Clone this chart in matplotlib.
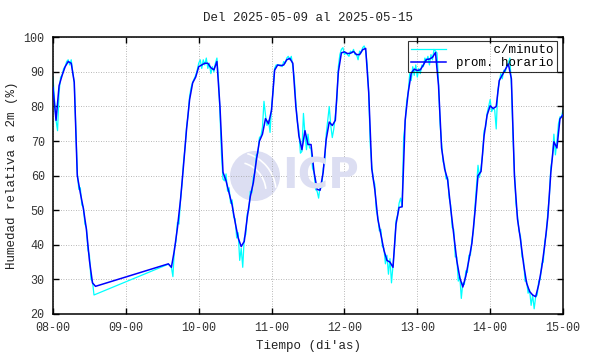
import numpy as np
import matplotlib
matplotlib.use("Agg")
import matplotlib.pyplot as plt
from matplotlib.patches import Ellipse, Arc

# ---------------- data ----------------
title = "Del 2025-05-09 al 2025-05-15"
x_label = "Tiempo (di'as)"
y_label = "Humedad relativa a 2m (%)"
x_tick_labels = ["08-00", "09-00", "10-00", "11-00", "12-00", "13-00", "14-00", "15-00"]
y_ticks = [20, 30, 40, 50, 60, 70, 80, 90, 100]
legend_labels = ["c/minuto", "prom. horario"]

# hourly average (hours after 08-00), two segments separated by a data gap
hourly_start_a = 0
hourly_a = [85.5, 76.0, 86.0, 89.0, 91.5, 93.0, 92.5, 87.0, 60.0, 55.0,
            50.5, 44.5, 35.5, 29.0, 28.0]
hourly_start_b = 38
hourly_b = [34.5, 33.5, 38.5, 45.0, 53.0, 63.0, 73.5, 82.0, 86.8, 88.5,   # 38-47
            91.5, 92.0, 92.5, 92.5, 91.2, 90.6, 93.0, 80.0, 61.0, 58.5,   # 48-57
            55.0, 51.5, 46.5, 42.0, 39.5, 41.0, 48.0, 54.0, 58.0, 64.5,   # 58-67
            70.0, 72.0, 76.5, 75.0, 79.0, 90.5, 92.0, 91.8, 92.0, 93.5,   # 68-77
            93.9, 92.5, 80.0, 71.5, 67.5, 73.0, 69.0, 69.0, 61.0, 56.0,   # 78-87
            55.8, 61.0, 70.5, 75.5, 74.5, 76.0, 90.0, 95.5, 95.8, 95.3,   # 88-97
            95.4, 95.9, 95.0, 95.0, 96.4, 96.8, 84.0, 62.0, 56.0, 47.5,   # 98-107
            43.0, 38.5, 35.5, 35.0, 33.5, 46.0, 50.8, 51.0, 76.0, 84.0,   # 108-117
            89.6, 90.8, 90.4, 90.6, 92.0, 93.6, 93.7, 94.2, 95.6, 86.0,   # 118-127
            68.0, 62.0, 58.8, 50.6, 43.0, 35.5, 30.5, 27.8, 31.0, 35.6,   # 128-137
            40.5, 49.5, 60.0, 61.2, 71.5, 77.5, 80.2, 79.4, 80.0, 87.5,   # 138-147
            89.1, 90.7, 92.3, 88.0, 60.0, 47.5, 41.5, 34.5, 29.0, 26.5,   # 148-157
            25.5, 25.0, 28.5, 33.5, 40.0, 48.0, 61.0, 69.8, 68.0, 76.4,   # 158-167
            77.6]                                                         # 168

# per-minute readings (sampled every half hour)
minute_step = 0.5
minute_start_a = 0.0
minute_a = [88.5, 82.0, 76.0, 73.0, 84.0, 88.5, 89.0, 91.0, 91.5, 93.0, 93.5, 92.0,
            93.5, 90.0, 87.0, 74.0, 61.0, 56.0, 56.5, 51.5, 51.0, 46.0, 45.0, 38.5,
            37.0, 30.0, 29.5, 25.5]
minute_start_b = 38.0
minute_b = [34.4, 34.0, 33.5, 30.8, 39.0, 41.0, 46.5, 46.0, 53.0, 57.5, 64.0, 68.0,
            74.0, 77.5, 83.0, 85.5, 87.0, 88.0, 89.0, 90.5, 92.5, 93.5, 91.0, 93.5,
            92.0, 94.0, 91.0, 92.5, 89.5, 91.5, 90.0, 92.5, 94.0, 88.0, 78.0, 66.0,
            59.0, 58.5, 60.5, 55.5, 56.5, 52.0, 53.0, 48.0, 47.5, 42.0, 43.5, 35.5,
            39.0, 33.5, 42.0, 43.0, 49.0, 50.0, 55.5, 55.0, 59.5, 61.0, 66.0, 66.5,
            71.0, 71.5, 74.0, 81.5, 77.5, 74.5, 76.0, 72.5, 80.0, 84.5, 91.0, 92.0,
            92.0, 92.0, 92.0, 91.5, 93.0, 92.5, 94.0, 94.5, 93.5, 94.5, 91.5, 88.0,
            81.0, 75.5, 73.0, 66.5, 67.0, 78.0, 72.0, 67.5, 72.0, 68.0, 68.0, 62.0,
            61.0, 56.0, 55.5, 53.5, 57.0, 56.5, 62.0, 64.0, 72.0, 76.0, 80.0, 74.5,
            71.0, 73.5, 77.5, 82.0, 91.5, 95.0, 96.5, 97.0, 95.0, 95.5, 95.0, 94.5,
            96.0, 95.5, 96.5, 95.0, 95.0, 93.5, 96.0, 95.5, 97.0, 97.5, 96.0, 92.0,
            84.0, 69.0, 63.0, 59.0, 57.5, 50.0, 48.0, 44.0, 44.5, 39.5, 39.0, 34.5,
            37.0, 31.5, 36.0, 29.0, 34.0, 39.5, 47.0, 48.5, 52.0, 53.5, 51.0, 71.0,
            75.0, 81.5, 84.0, 89.5, 87.5, 91.5, 89.0, 92.0, 88.5, 91.0, 89.5, 92.0,
            91.5, 94.0, 93.0, 94.5, 92.0, 95.0, 93.5, 96.5, 96.0, 95.5, 87.0, 75.0,
            69.5, 64.0, 63.0, 59.0, 59.5, 53.5, 51.5, 45.0, 44.5, 36.5, 36.5, 29.5,
            31.0, 24.5, 29.0, 28.5, 32.5, 32.0, 37.0, 37.0, 41.5, 44.0, 51.0, 57.0,
            63.0, 59.5, 62.5, 66.0, 73.0, 74.0, 78.0, 80.0, 82.0, 78.5, 79.5, 79.0,
            73.5, 84.5, 87.0, 89.5, 88.0, 90.5, 90.0, 92.0, 92.5, 94.0, 86.0, 72.0,
            61.0, 52.0, 48.5, 44.0, 42.5, 36.5, 35.5, 29.5, 29.5, 26.0, 27.0, 22.5,
            25.5, 21.5, 25.0, 25.5, 29.5, 30.0, 34.5, 35.0, 41.0, 43.0, 49.5, 54.0,
            62.5, 65.0, 72.0, 66.0, 70.0, 75.0, 77.0, 77.0, 79.0]

# ---------------- build series ----------------
t_hour = np.concatenate([hourly_start_a + np.arange(len(hourly_a)),
                         hourly_start_b + np.arange(len(hourly_b))]) / 24.0
v_hour = np.array(hourly_a + hourly_b)
t_min = np.concatenate([minute_start_a + np.arange(len(minute_a)) * minute_step,
                        minute_start_b + np.arange(len(minute_b)) * minute_step]) / 24.0
v_min = np.array(minute_a + minute_b)

# ---------------- figure ----------------
plt.rcParams['font.family'] = ['Liberation Mono', 'DejaVu Sans Mono']
FS = 8.5
W, H = 590, 354
fig = plt.figure(figsize=(W / 100, H / 100), dpi=100)
ax = fig.add_axes([53 / W, 1 - 314 / H, 510 / W, (314 - 37.3) / H])

# watermark logo
wm_color = "#dcdef2"
ax.add_patch(Ellipse((255 / W, 1 - 176 / H), 50 / W, 50 / H, transform=fig.transFigure,
                     facecolor=wm_color, edgecolor="none", zorder=0))
for r in (30, 40):
    ax.add_patch(Arc((236 / W, 1 - 192 / H), 2 * r / W, 2 * r / H, theta1=10, theta2=80,
                     transform=fig.transFigure, color="white", lw=1.2, zorder=0.5))
fig.text(282 / W, 1 - 176 / H, "ICP", fontsize=30, fontweight="bold", family="DejaVu Sans",
         color=wm_color, va="center", ha="left", zorder=0)

pad_label = " " * (len(legend_labels[1]) - len(legend_labels[0])) + legend_labels[0]
ax.plot(t_min, v_min, color="#00ffff", lw=0.9, label=pad_label, zorder=2)
ax.plot(t_hour, v_hour, color="#0000ff", lw=1.1, label=legend_labels[1], zorder=3)

ax.set_xlim(0, len(x_tick_labels) - 1)
ax.set_ylim(y_ticks[0], y_ticks[-1])
ax.set_xticks(np.arange(len(x_tick_labels)))
ax.set_xticklabels(x_tick_labels)
ax.set_yticks(y_ticks)
ax.tick_params(direction="in", length=4, width=1, top=True, right=True,
               labelsize=FS, pad=6, colors="black", labelcolor="#333333")
ax.grid(True, color="#a0a0a0", linestyle=(0, (1, 2)), lw=0.6)
for s in ax.spines.values():
    s.set_linewidth(1.1)
    s.set_color("black")

ax.set_xlabel(x_label, fontsize=FS + 0.5, labelpad=4, color="#222222")
ax.set_ylabel(y_label, fontsize=FS + 0.5, labelpad=4, color="#222222")
ax.set_title(title, fontsize=FS + 0.5, pad=12, color="#222222")

leg = ax.legend(loc="upper right", bbox_to_anchor=(0.988, 0.987), borderaxespad=0,
                fontsize=FS + 0.5, frameon=True, fancybox=False,
                handlelength=2.8, handletextpad=0.8, borderpad=0.25, labelspacing=0.1)
leg.get_frame().set_facecolor("none")
leg.get_frame().set_edgecolor("black")
leg.get_frame().set_linewidth(0.8)

fig.savefig("out.png", dpi=100)
